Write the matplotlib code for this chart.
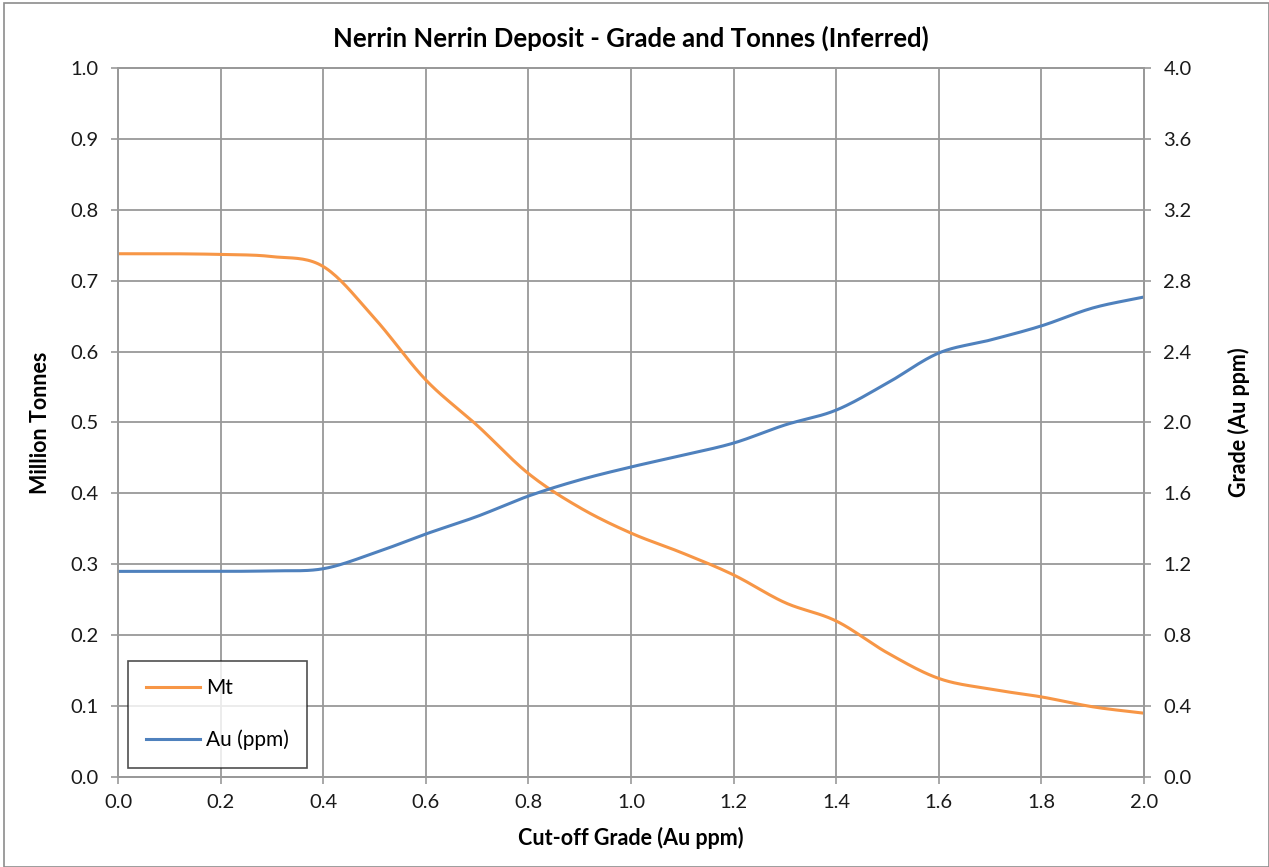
import numpy as np
import matplotlib.pyplot as plt
from matplotlib.patches import Rectangle

cutoff = [0.0, 0.1, 0.2, 0.3, 0.4, 0.5, 0.6, 0.7, 0.8, 0.9, 1.0,
          1.1, 1.2, 1.3, 1.4, 1.5, 1.6, 1.7, 1.8, 1.9, 2.0]
mt = [0.738, 0.738, 0.737, 0.734, 0.720, 0.647, 0.560, 0.496, 0.428, 0.380, 0.344,
      0.316, 0.285, 0.246, 0.220, 0.175, 0.139, 0.124, 0.113, 0.099, 0.090]
au = [1.16, 1.16, 1.16, 1.163, 1.175, 1.264, 1.371, 1.470, 1.585, 1.676, 1.749,
      1.815, 1.884, 1.986, 2.070, 2.223, 2.392, 2.465, 2.545, 2.646, 2.708]


def smooth(x, y, n=20):
    # catmull-rom through the points, like Excel's smoothed line
    x = np.asarray(x, float)
    y = np.asarray(y, float)
    px = np.concatenate([[2 * x[0] - x[1]], x, [2 * x[-1] - x[-2]]])
    py = np.concatenate([[2 * y[0] - y[1]], y, [2 * y[-1] - y[-2]]])
    xs, ys = [], []
    t = np.linspace(0, 1, n, endpoint=False)
    for i in range(1, len(px) - 2):
        for p, out in ((px, xs), (py, ys)):
            p0, p1, p2, p3 = p[i - 1], p[i], p[i + 1], p[i + 2]
            out.extend(0.5 * ((2 * p1) + (-p0 + p2) * t
                              + (2 * p0 - 5 * p1 + 4 * p2 - p3) * t ** 2
                              + (-p0 + 3 * p1 - 3 * p2 + p3) * t ** 3))
    xs.append(x[-1])
    ys.append(y[-1])
    return np.array(xs), np.array(ys)


plt.rcParams['font.family'] = ['Lato', 'DejaVu Sans']

fig = plt.figure(figsize=(12.69, 8.67), dpi=100)
fig.patches.append(Rectangle((0.003, 0.0), 0.997, 0.996, transform=fig.transFigure,
                             fill=False, edgecolor='#8c8c8c', linewidth=1.2))

ax = fig.add_axes([0.093, 0.1038, 0.8085, 0.8178])
ax2 = ax.twinx()

orange = '#f79646'
blue = '#4f81bd'
grid_c = '#999999'

sx, sy = smooth(cutoff, mt)
l1, = ax.plot(sx, sy, color=orange, linewidth=2.2, label='Mt')
sx, sy = smooth(cutoff, au)
l2, = ax2.plot(sx, sy, color=blue, linewidth=2.2, label='Au (ppm)')

ax.set_xlim(0, 2.0)
ax.set_ylim(0, 1.0)
ax2.set_ylim(0, 4.0)
ax.set_xticks(np.arange(0, 2.01, 0.2))
ax.set_yticks(np.arange(0, 1.01, 0.1))
ax2.set_yticks(np.arange(0, 4.01, 0.4))
ax.set_xticklabels([f'{v:.1f}' for v in np.arange(0, 2.01, 0.2)])
ax.set_yticklabels([f'{v:.1f}' for v in np.arange(0, 1.01, 0.1)])
ax2.set_yticklabels([f'{v:.1f}' for v in np.arange(0, 4.01, 0.4)])

ax.grid(True, color=grid_c, linewidth=1.3)
ax.set_axisbelow(True)
for a in (ax, ax2):
    for s in a.spines.values():
        s.set_color(grid_c)
        s.set_linewidth(1.3)
    a.tick_params(colors=grid_c, labelcolor='#1a1a1a', labelsize=14.5,
                  length=5, width=1.2)
ax.tick_params(axis='x', pad=7)
ax.tick_params(axis='y', pad=9)
ax2.tick_params(axis='y', pad=9)

ax.set_xlabel('Cut-off Grade (Au ppm)', fontsize=15.5, fontweight='bold', labelpad=12)
ax.set_ylabel('Million Tonnes', fontsize=15.5, fontweight='bold', labelpad=14)
ax2.set_ylabel('Grade (Au ppm)', fontsize=15.5, fontweight='bold', labelpad=26)
ax.set_title('Nerrin Nerrin Deposit - Grade and Tonnes (Inferred)',
             fontsize=18.5, fontweight='bold', pad=15)

leg = ax.legend(handles=[l1, l2], loc='lower left', bbox_to_anchor=(0.01, 0.013),
                frameon=True, fancybox=False, fontsize=15, labelspacing=1.5,
                borderpad=0.85, handlelength=2.6, handletextpad=0.3,
                borderaxespad=0.0)
leg.get_frame().set_edgecolor('#222222')
leg.get_frame().set_linewidth(1.2)
leg.set_zorder(5)

fig.savefig('out.png', dpi=100)
